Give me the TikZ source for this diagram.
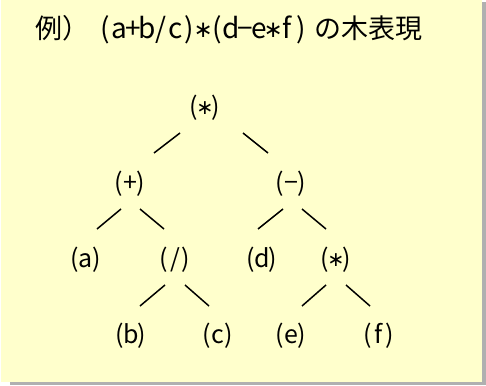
\documentclass[tikz,border=0pt]{standalone}
\usepackage{fontspec}
\setmainfont{Noto Sans CJK JP}
\newfontfamily\jpfont{Noto Sans CJK JP}
\newfontfamily\symfont{DejaVu Sans}
\definecolor{bgyellow}{HTML}{FFFFCC}
\definecolor{shadowgray}{HTML}{B0B0B0}
\newlength\cellw
\newcommand\hc[1]{\makebox[\cellw]{#1}}
\newcommand\myast{\raisebox{0.06em}{\scalebox{0.82}{\symfont ∗}}}
\tikzset{
  lbl/.style={inner sep=0pt, font=\jpfont\fontsize{25}{25}\selectfont\setlength\cellw{10.8pt}},
  ttl/.style={inner sep=0pt, anchor=base west},
  edge/.style={line width=1.5pt, black},
}
\begin{document}
\begin{tikzpicture}[x=1pt,y=-1pt]
\useasboundingbox (0,0) rectangle (486,385);
\fill[shadowgray] (482,2) rectangle (486,385);
\fill[shadowgray] (10,382) rectangle (486,385);
\fill[bgyellow] (1,0) rectangle (482,382);
% title
\node[ttl, font=\jpfont\fontsize{27}{27}\selectfont] (t1) at (35,39) {例）};
\node[ttl, font=\jpfont\fontsize{28}{28}\selectfont\setlength\cellw{14pt}] (t2) at (98,39)
  {\hc(\hc{a}\hc{+}\hc{b}\hc{/}\hc{c}\hc)\hc{\myast}\hc(\hc{d}\hc{−}\hc{e}\hc{\myast}\hc{f}\hc)};
\node[ttl, font=\jpfont\fontsize{27}{27}\selectfont] (t3) at (314,39) {の木表現};
% tree nodes
\node[lbl] (top) at (205,108) {\hc(\hc{\myast}\hc)};
\node[lbl] (plus) at (130,184) {\hc(\hc{+}\hc)};
\node[lbl] (minus) at (291,184) {\hc(\hc{−}\hc)};
\node[lbl] (a) at (86,260) {\hc(\hc{a}\hc)};
\node[lbl] (slash) at (175,260) {\hc(\hc{/}\hc)};
\node[lbl] (d) at (262,260) {\hc(\hc{d}\hc)};
\node[lbl] (mul) at (336,260) {\hc(\hc{\myast}\hc)};
\node[lbl] (b) at (131,336) {\hc(\hc{b}\hc)};
\node[lbl] (c) at (218,336) {\hc(\hc{c}\hc)};
\node[lbl] (e) at (291,336) {\hc(\hc{e}\hc)};
\node[lbl] (f) at (379,336) {\hc(\hc{f}\hc)};
% connectors
\draw[edge] ([shift={(-25,25)}]top.center) -- ([shift={(24,-31)}]plus.center);
\draw[edge] ([shift={(38,25)}]top.center) -- ([shift={(-23,-31)}]minus.center);
\draw[edge] ([shift={(-9,25)}]plus.center) -- ([shift={(11,-31)}]a.center);
\draw[edge] ([shift={(10,25)}]plus.center) -- ([shift={(-11,-31)}]slash.center);
\draw[edge] ([shift={(-8,25)}]minus.center) -- ([shift={(-4,-31)}]d.center);
\draw[edge] ([shift={(11,25)}]minus.center) -- ([shift={(-10,-31)}]mul.center);
\draw[edge] ([shift={(-10,25)}]slash.center) -- ([shift={(9,-30)}]b.center);
\draw[edge] ([shift={(10,25)}]slash.center) -- ([shift={(-9,-30)}]c.center);
\draw[edge] ([shift={(-10,25)}]mul.center) -- ([shift={(11,-30)}]e.center);
\draw[edge] ([shift={(10,25)}]mul.center) -- ([shift={(-9,-30)}]f.center);
\end{tikzpicture}
\end{document}
